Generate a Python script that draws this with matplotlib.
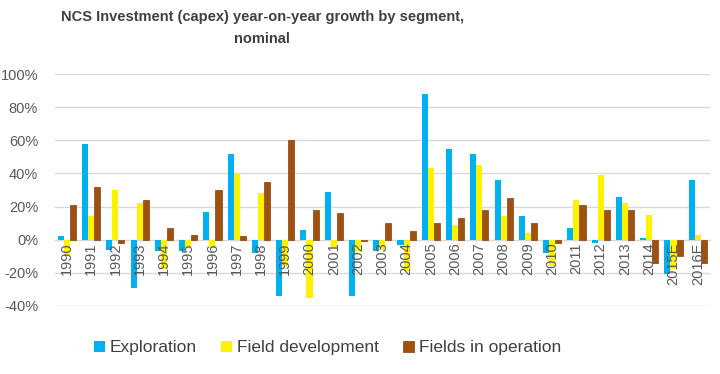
import numpy as np
import matplotlib.pyplot as plt
from matplotlib import font_manager
from matplotlib.ticker import FuncFormatter

plt.rcParams['font.family'] = ['Liberation Sans', 'DejaVu Sans']

years = ['1990', '1991', '1992', '1993', '1994', '1995', '1996', '1997', '1998',
         '1999', '2000', '2001', '2002', '2003', '2004', '2005', '2006', '2007',
         '2008', '2009', '2010', '2011', '2012', '2013', '2014', '2015E', '2016E']

exploration = [2, 58, -6, -29, -7, -7, 17, 52, -8, -34, 6, 29, -34, -7, -3, 88,
               55, 52, 36, 14, -8, 7, -2, 26, 1, -21, 36]
field_dev = [-9, 14, 30, 22, -18, -5, -5, 40, 28, -16, -35, -5, -7, -6, -19, 43,
             9, 45, 14, 4, -16, 24, 39, 22, 15, -18, 3]
operation = [21, 32, -2, 24, 7, 3, 30, 2, 35, 60, 18, 16, -1, 10, 5, 10,
             13, 18, 25, 10, -2, 21, 18, 18, -14, -10, -14]

ind = np.arange(len(years))
w = 0.25

fig = plt.figure(figsize=(7.2, 3.74), dpi=100)
ax = fig.add_axes([0.076, 0.182, 0.91, 0.62])

ax.bar(ind - w, exploration, w, color='#00B0F0', label='Exploration', zorder=3)
ax.bar(ind, field_dev, w, color='#FFF200', label='Field development', zorder=3)
ax.bar(ind + w, operation, w, color='#A0500F', edgecolor='#8A4008', linewidth=0.5,
       label='Fields in operation', zorder=3)

ax.set_ylim(-40, 100)
ax.set_xlim(-0.5, len(years) - 0.5)
ax.set_yticks(np.arange(-40, 101, 20))
ax.yaxis.set_major_formatter(FuncFormatter(lambda v, p: '%d%%' % v))
ax.set_axisbelow(True)
ax.grid(axis='y', color='#D9D9D9', linewidth=1)
# year labels sit on top of the bars, like the original
ax.xaxis.set_zorder(5)

for s in ['top', 'right', 'left']:
    ax.spines[s].set_visible(False)
ax.spines['bottom'].set_position(('data', 0))
ax.spines['bottom'].set_color('#D9D9D9')
ax.spines['bottom'].set_zorder(1)
ax.set_xticks(ind)
ax.set_xticklabels(years, rotation=90)
ax.tick_params(axis='both', length=0, labelsize=10.5, colors='#595959')
ax.tick_params(axis='x', pad=2)
ax.tick_params(axis='y', pad=12)

# title in the original is a condensed face
names = {f.name for f in font_manager.fontManager.ttflist}
if 'Liberation Sans Narrow' in names:
    tfam, tsize = ['Liberation Sans Narrow', 'DejaVu Sans'], 12.5
else:
    tfam, tsize = ['Liberation Sans', 'DejaVu Sans'], 10.5
fig.text(0.364, 0.972, 'NCS Investment (capex) year-on-year growth by segment,\nnominal',
         ha='center', va='top', fontsize=tsize, fontweight='bold', color='#404040',
         linespacing=1.65, family=tfam)

fig.legend(*ax.get_legend_handles_labels(), loc='center', bbox_to_anchor=(0.455, 0.07),
           ncol=3, frameon=False, fontsize=12.5, handlelength=0.6, handleheight=0.6,
           handletextpad=0.3, columnspacing=1.4, labelcolor='#404040')

plt.savefig('out.png')
